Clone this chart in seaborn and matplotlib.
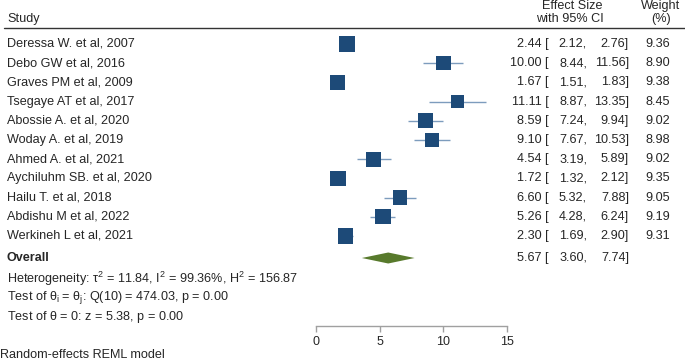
import numpy as np
import pandas as pd
import matplotlib
matplotlib.use("Agg")
import matplotlib.pyplot as plt
import seaborn as sns

# study data
studies = ["Deressa W. et al, 2007", "Debo GW et al, 2016", "Graves PM et al, 2009",
           "Tsegaye AT et al, 2017", "Abossie A. et al, 2020", "Woday A. et al, 2019",
           "Ahmed A. et al, 2021", "Aychiluhm SB. et al, 2020", "Hailu T. et al, 2018",
           "Abdishu M et al, 2022", "Werkineh L et al, 2021"]
es = [2.44, 10.00, 1.67, 11.11, 8.59, 9.10, 4.54, 1.72, 6.60, 5.26, 2.30]
lo = [2.12, 8.44, 1.51, 8.87, 7.24, 7.67, 3.19, 1.32, 5.32, 4.28, 1.69]
hi = [2.76, 11.56, 1.83, 13.35, 9.94, 10.53, 5.89, 2.12, 7.88, 6.24, 2.90]
weight = [9.36, 8.90, 9.38, 8.45, 9.02, 8.98, 9.02, 9.35, 9.05, 9.19, 9.31]
overall = (5.67, 3.60, 7.74)
xticks = [0, 5, 10, 15]

sns.set_theme(style="white")
plt.rcParams['font.family'] = ['Liberation Sans', 'DejaVu Sans']
plt.rcParams['mathtext.fontset'] = 'custom'
plt.rcParams['mathtext.rm'] = 'Liberation Sans'
plt.rcParams['mathtext.it'] = 'Liberation Sans'

W, H = 685, 361
fig = plt.figure(figsize=(6.85, 3.61), dpi=100)

# text layer in pixel coordinates
tx = fig.add_axes([0, 0, 1, 1])
tx.set_xlim(0, W)
tx.set_ylim(H, 0)
tx.axis("off")

# forest panel: x from 316px to 507px, y from 30px to 326px
x0, x1, ytop, ybot = 316, 507, 30, 326
ax = fig.add_axes([x0 / W, (H - ybot) / H, (x1 - x0) / W, (ybot - ytop) / H])
ax.patch.set_alpha(0)
ax.set_xlim(0, 15)
ax.set_ylim(ybot, ytop)

rows = 44 + 19.2 * np.arange(len(studies))
df = pd.DataFrame({"study": studies, "es": es, "lo": lo, "hi": hi,
                   "weight": weight, "row": rows})

navy = "#1d4a78"
ax.hlines(df["row"], df["lo"], df["hi"], color="#7d9cbd", lw=1, zorder=1)
sns.scatterplot(data=df, x="es", y="row", size="weight", sizes=(90, 125),
                marker="s", color=navy, edgecolor=navy, linewidth=0,
                legend=False, ax=ax, zorder=2)

oy = 258
ax.fill([overall[1], overall[0], overall[2], overall[0]],
        [oy, oy - 5.5, oy, oy + 5.5], color="#587a2c", lw=0, zorder=2)

for s in ["top", "right", "left"]:
    ax.spines[s].set_visible(False)
ax.spines["bottom"].set_color("#a0a0a0")
ax.spines["bottom"].set_linewidth(1)
ax.set_xticks(xticks)
ax.set_xticklabels([str(t) for t in xticks], fontsize=9)
ax.tick_params(axis="x", direction="out", length=4, color="#a0a0a0",
               width=1, pad=3, bottom=True)
ax.set_yticks([])
ax.set_xlabel("")
ax.set_ylabel("")

fs = 9.1
# header
tx.text(7, 19, "Study", fontsize=fs, va="center")
tx.text(572, 6, "Effect Size", fontsize=fs, va="center", ha="center")
tx.text(570, 19, "with 95% CI", fontsize=fs, va="center", ha="center")
tx.text(661, 6, "Weight", fontsize=fs, va="center", ha="center")
tx.text(661, 19, "(%)", fontsize=fs, va="center", ha="center")
tx.plot([4, W], [28, 28], color="#333333", lw=1)

for i, r in df.iterrows():
    tx.text(7, r["row"], r["study"], fontsize=fs, va="center")
    tx.text(549, r["row"], f"{r['es']:.2f} [", fontsize=fs, va="center", ha="right")
    tx.text(587, r["row"], f"{r['lo']:.2f},", fontsize=fs, va="center", ha="right")
    tx.text(629, r["row"], f"{r['hi']:.2f}]", fontsize=fs, va="center", ha="right")
    tx.text(670, r["row"], f"{r['weight']:.2f}", fontsize=fs, va="center", ha="right")

tx.text(7, oy, "Overall", fontsize=fs, va="center", fontweight="bold")
tx.text(549, oy, f"{overall[0]:.2f} [", fontsize=fs, va="center", ha="right")
tx.text(587, oy, f"{overall[1]:.2f},", fontsize=fs, va="center", ha="right")
tx.text(629, oy, f"{overall[2]:.2f}]", fontsize=fs, va="center", ha="right")

tx.text(7, 279, r"Heterogeneity: τ$^2$ = 11.84, I$^2$ = 99.36%, H$^2$ = 156.87",
        fontsize=fs, va="center")
tx.text(7, 298, r"Test of $\theta_i$ = $\theta_j$: Q(10) = 474.03, p = 0.00",
        fontsize=fs, va="center")
tx.text(7, 317, r"Test of $\theta$ = 0: z = 5.38, p = 0.00", fontsize=fs, va="center")
tx.text(0, 355, "Random-effects REML model", fontsize=fs, va="center")

fig.savefig("out.png", dpi=100)
